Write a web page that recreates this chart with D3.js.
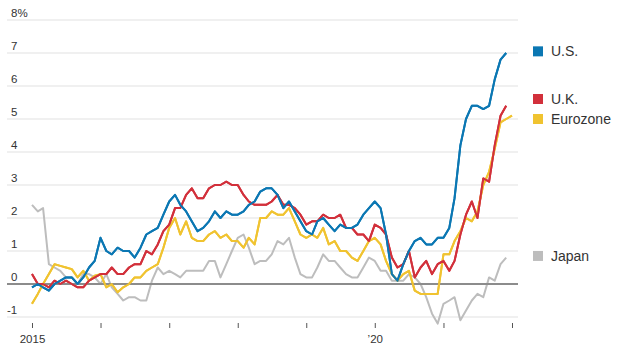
<!DOCTYPE html>
<html>
<head>
<meta charset="utf-8">
<script src="https://cdn.jsdelivr.net/npm/d3@7"></script>
<style>
  html, body { margin: 0; padding: 0; background: #fff; }
  svg { display: block; font-family: "Liberation Sans", Arial, sans-serif; }
</style>
</head>
<body>
<svg id="chart" width="620" height="358"></svg>
<script>
// ---- Data (monthly, year-over-year % change, starting Jan 2015) ----
const startMonth = "2015-01";
const seriesNames = ["Japan", "Eurozone", "U.K.", "U.S."];
const usValues = [
  -0.1, 0.0, -0.1, -0.2, 0.0, 0.1, 0.2, 0.2, 0.0, 0.2, 0.5, 0.7,
  1.4, 1.0, 0.9, 1.1, 1.0, 1.0, 0.8, 1.1, 1.5, 1.6, 1.7, 2.1,
  2.5, 2.7, 2.4, 2.2, 1.9, 1.6, 1.7, 1.9, 2.2, 2.0, 2.2, 2.1,
  2.1, 2.2, 2.4, 2.5, 2.8, 2.9, 2.9, 2.7, 2.3, 2.5, 2.2, 1.9,
  1.6, 1.5, 1.9, 2.0, 1.8, 1.6, 1.8, 1.7, 1.7, 1.8, 2.1, 2.3,
  2.5, 2.3, 1.5, 0.3, 0.1, 0.6, 1.0, 1.3, 1.4, 1.2, 1.2, 1.4,
  1.4, 1.7, 2.6, 4.2, 5.0, 5.4, 5.4, 5.3, 5.4, 6.2, 6.8, 7.0
];
const ukValues = [
  0.3, 0.0, 0.0, -0.1, 0.1, 0.0, 0.1, 0.0, -0.1, -0.1, 0.1, 0.2,
  0.3, 0.3, 0.5, 0.3, 0.3, 0.5, 0.6, 0.6, 1.0, 0.9, 1.2, 1.6,
  1.8, 2.3, 2.3, 2.7, 2.9, 2.6, 2.6, 2.9, 3.0, 3.0, 3.1, 3.0,
  3.0, 2.7, 2.5, 2.4, 2.4, 2.4, 2.5, 2.7, 2.4, 2.4, 2.3, 2.1,
  1.8, 1.9, 1.9, 2.1, 2.0, 2.0, 2.1, 1.7, 1.7, 1.5, 1.5, 1.3,
  1.8, 1.7, 1.5, 0.8, 0.5, 0.6, 1.0, 0.2, 0.5, 0.7, 0.3, 0.6,
  0.7, 0.4, 0.7, 1.5, 2.1, 2.5, 2.0, 3.2, 3.1, 4.2, 5.1, 5.4
];
const eurozoneValues = [
  -0.6, -0.3, 0.0, 0.3, 0.6, 0.55, 0.5, 0.45, 0.2, 0.4, 0.1, 0.25,
  0.3, -0.1, 0.0, -0.25, -0.1, 0.0, 0.2, 0.2, 0.4, 0.5, 0.6, 1.1,
  1.7, 2.0, 1.5, 1.9, 1.4, 1.3, 1.3, 1.5, 1.6, 1.4, 1.5, 1.3,
  1.3, 1.1, 1.4, 1.2, 2.0, 2.0, 2.2, 2.1, 2.1, 2.3, 1.9, 1.5,
  1.4, 1.5, 1.4, 1.7, 1.2, 1.3, 1.0, 1.0, 0.8, 0.7, 1.0, 1.3,
  1.4, 1.2, 0.7, 0.3, 0.1, 0.3, 0.4, -0.2, -0.3, -0.3, -0.3, -0.3,
  0.9, 0.9, 1.3, 1.6, 2.0, 1.9, 2.2, 3.0, 3.4, 4.1, 4.9, 5.0, 5.1
];
const japanValues = [
  2.4, 2.2, 2.3, 0.6, 0.5, 0.4, 0.2, 0.2, 0.0, 0.3, 0.3, 0.2,
  0.0, 0.3, -0.1, -0.3, -0.5, -0.4, -0.4, -0.5, -0.5, 0.1, 0.5, 0.3,
  0.4, 0.3, 0.2, 0.4, 0.4, 0.4, 0.4, 0.7, 0.7, 0.2, 0.6, 1.0,
  1.4, 1.5, 1.1, 0.6, 0.7, 0.7, 0.9, 1.3, 1.2, 1.4, 0.8, 0.3,
  0.2, 0.2, 0.5, 0.9, 0.7, 0.7, 0.5, 0.3, 0.2, 0.2, 0.5, 0.8,
  0.7, 0.4, 0.4, 0.1, 0.1, 0.1, 0.3, 0.2, 0.0, -0.4, -0.9, -1.2,
  -0.6, -0.5, -0.4, -1.1, -0.8, -0.5, -0.3, -0.4, 0.2, 0.1, 0.6, 0.8
];
const legendValues = [0.85, 5.0, 5.4, 7.05]; // value each legend label sits at
const yTicks = [-1, 0, 1, 2, 3, 4, 5, 6, 7, 8];
const xTickYears = [2015, 2016, 2017, 2018, 2019, 2020, 2021, 2022];
const xTickLabels = { 2015: "2015", 2020: "\u201920" };

// ---- Styles ----
const colors = { "U.S.": "#0b77b3", "U.K.": "#d2303b", "Eurozone": "#f0c330", "Japan": "#bdbdbd" };
const valuesByName = { "U.S.": usValues, "U.K.": ukValues, "Eurozone": eurozoneValues, "Japan": japanValues };

const svg = d3.select("#chart");
const parseMonth = d3.timeParse("%Y-%m");
const start = parseMonth(startMonth);

const x = d3.scaleTime()
  .domain([new Date(2015, 0, 1), new Date(2022, 0, 1)])
  .range([32, 512]);
const y = d3.scaleLinear().domain([-1, 8]).range([317, 20]);

const gridLeft = 7, gridRight = 518;

// gridlines
svg.append("g").selectAll("line").data(yTicks.filter(d => d !== 0)).join("line")
  .attr("x1", gridLeft).attr("x2", gridRight)
  .attr("y1", d => y(d)).attr("y2", d => y(d))
  .attr("stroke", "#ebebeb").attr("stroke-width", 1.5);

// y labels
svg.append("g").selectAll("text").data(yTicks).join("text")
  .attr("x", d => d < 0 ? 7 : 11)
  .attr("y", d => y(d) - 3)
  .attr("font-size", 11.5)
  .attr("fill", "#333")
  .text(d => d === 8 ? "8%" : d);

// x axis ticks
const xAxis = d3.axisBottom(x)
  .tickValues(xTickYears.map(yr => new Date(yr, 0, 1)))
  .tickSize(5)
  .tickFormat(d => xTickLabels[d.getFullYear()] || "");
const gx = svg.append("g").attr("transform", "translate(0,323)").call(xAxis);
gx.select(".domain").remove();
gx.selectAll(".tick line").attr("stroke", "#555");
gx.selectAll(".tick text").attr("font-family", "Liberation Sans, Arial, sans-serif")
  .attr("font-size", 11.5).attr("fill", "#333").attr("dy", "1em");

// lines
const line = d3.line()
  .x((d, i) => x(d3.timeMonth.offset(start, i)))
  .y(d => y(d));

svg.append("g").selectAll("path").data(seriesNames).join("path")
  .attr("d", name => line(valuesByName[name]))
  .attr("fill", "none")
  .attr("stroke", name => colors[name])
  .attr("stroke-width", 2)
  .attr("stroke-linejoin", "round");

// zero line
svg.append("line")
  .attr("x1", gridLeft).attr("x2", gridRight)
  .attr("y1", y(0)).attr("y2", y(0))
  .attr("stroke", "#8c8c8c").attr("stroke-width", 2);

// colored lines above zero line
svg.append("g").selectAll("path").data(seriesNames.filter(n => n !== "Japan")).join("path")
  .attr("d", name => line(valuesByName[name]))
  .attr("fill", "none")
  .attr("stroke", name => colors[name])
  .attr("stroke-width", 2)
  .attr("stroke-linejoin", "round");

// legend with simple collision avoidance
const legendItems = seriesNames.map((n, i) => ({ name: n, y: y(legendValues[i]) }))
  .sort((a, b) => b.y - a.y);
for (let i = 1; i < legendItems.length; i++) {
  if (legendItems[i - 1].y - legendItems[i].y < 20) legendItems[i].y = legendItems[i - 1].y - 20;
}
const lg = svg.append("g").selectAll("g").data(legendItems).join("g")
  .attr("transform", d => `translate(533,${d.y})`);
lg.append("rect").attr("x", 0).attr("y", -5).attr("width", 10).attr("height", 10)
  .attr("fill", d => colors[d.name]);
lg.append("text").attr("x", 18).attr("y", 5).attr("font-size", 14).attr("fill", "#333")
  .text(d => d.name);
</script>
</body>
</html>
